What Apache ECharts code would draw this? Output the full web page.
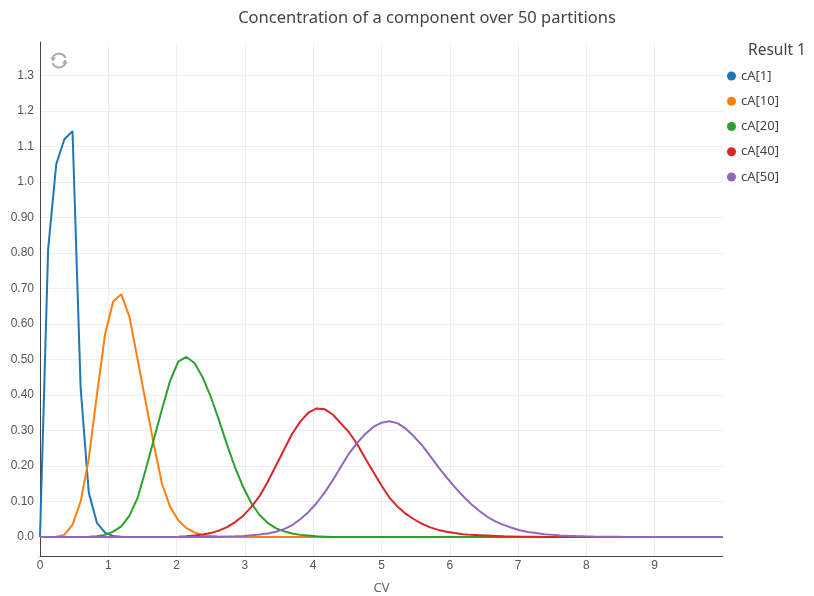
<!DOCTYPE html>
<html>
<head>
<meta charset="utf-8">
<title>Concentration of a component over 50 partitions</title>
<script src="https://cdn.jsdelivr.net/npm/echarts@6.0.0/dist/echarts.min.js"></script>
<style>
  html, body { margin: 0; padding: 0; background: #ffffff; }
  #chart { width: 814px; height: 596px; }
</style>
</head>
<body>
<div id="chart"></div>
<script>
// CV grid shared by every partition curve
const cv = [
  0, 0.119, 0.238, 0.357, 0.476, 0.595, 0.714, 0.833, 0.952, 1.071,
  1.19, 1.31, 1.429, 1.548, 1.667, 1.786, 1.905, 2.024, 2.143, 2.262,
  2.381, 2.5, 2.619, 2.738, 2.857, 2.976, 3.095, 3.214, 3.333, 3.452,
  3.571, 3.69, 3.81, 3.929, 4.048, 4.167, 4.286, 4.405, 4.524, 4.643,
  4.762, 4.881, 5.0, 5.119, 5.238, 5.357, 5.476, 5.595, 5.714, 5.833,
  5.952, 6.071, 6.19, 6.31, 6.429, 6.548, 6.667, 6.786, 6.905, 7.024,
  7.143, 7.262, 7.381, 7.5, 7.619, 7.738, 7.857, 7.976, 8.095, 8.214,
  8.333, 8.452, 8.571, 8.69, 8.81, 8.929, 9.048, 9.167, 9.286, 9.405,
  9.524, 9.643, 9.762, 9.881, 10.0
];

const cA1 = [
  0, 0.81, 1.05, 1.12, 1.143, 0.42, 0.125, 0.04, 0.012, 0.003,
  0.001, 0, 0, 0, 0, 0, 0, 0, 0, 0,
  0, 0, 0, 0, 0, 0, 0, 0, 0, 0,
  0, 0, 0, 0, 0, 0, 0, 0, 0, 0,
  0, 0, 0, 0, 0, 0, 0, 0, 0, 0,
  0, 0, 0, 0, 0, 0, 0, 0, 0, 0,
  0, 0, 0, 0, 0, 0, 0, 0, 0, 0,
  0, 0, 0, 0, 0, 0, 0, 0, 0, 0,
  0, 0, 0, 0, 0
];

const cA10 = [
  0, 0, 0.001, 0.006, 0.035, 0.10, 0.22, 0.40, 0.57, 0.663,
  0.684, 0.62, 0.50, 0.38, 0.26, 0.15, 0.085, 0.047, 0.025, 0.013,
  0.006, 0.003, 0.001, 0, 0, 0, 0, 0, 0, 0,
  0, 0, 0, 0, 0, 0, 0, 0, 0, 0,
  0, 0, 0, 0, 0, 0, 0, 0, 0, 0,
  0, 0, 0, 0, 0, 0, 0, 0, 0, 0,
  0, 0, 0, 0, 0, 0, 0, 0, 0, 0,
  0, 0, 0, 0, 0, 0, 0, 0, 0, 0,
  0, 0, 0, 0, 0
];

const cA20 = [
  0, 0, 0, 0, 0, 0, 0.0005, 0.002, 0.006, 0.015,
  0.03, 0.06, 0.11, 0.19, 0.275, 0.36, 0.44, 0.494, 0.507, 0.49,
  0.45, 0.395, 0.33, 0.26, 0.195, 0.14, 0.095, 0.062, 0.04, 0.025,
  0.016, 0.01, 0.006, 0.004, 0.002, 0.001, 0, 0, 0, 0,
  0, 0, 0, 0, 0, 0, 0, 0, 0, 0,
  0, 0, 0, 0, 0, 0, 0, 0, 0, 0,
  0, 0, 0, 0, 0, 0, 0, 0, 0, 0,
  0, 0, 0, 0, 0, 0, 0, 0, 0, 0,
  0, 0, 0, 0, 0
];

const cA40 = [
  0, 0, 0, 0, 0, 0, 0, 0, 0, 0,
  0, 0, 0, 0, 0, 0, 0.0003, 0.001, 0.002, 0.004,
  0.007, 0.011, 0.018, 0.028, 0.042, 0.06, 0.085, 0.115, 0.155, 0.2,
  0.245, 0.29, 0.325, 0.35, 0.362, 0.36, 0.345, 0.32, 0.295, 0.262,
  0.222, 0.183, 0.145, 0.11, 0.085, 0.065, 0.05, 0.037, 0.027, 0.02,
  0.015, 0.011, 0.008, 0.006, 0.005, 0.004, 0.003, 0.002, 0.0015, 0.001,
  0.0007, 0.0005, 0, 0, 0, 0, 0, 0, 0, 0,
  0, 0, 0, 0, 0, 0, 0, 0, 0, 0,
  0, 0, 0, 0, 0
];

const cA50 = [
  0, 0, 0, 0, 0, 0, 0, 0, 0, 0,
  0, 0, 0, 0, 0, 0, 0, 0, 0, 0,
  0, 0.0005, 0.001, 0.0015, 0.002, 0.003, 0.005, 0.007, 0.01, 0.015,
  0.022, 0.033, 0.05, 0.07, 0.095, 0.125, 0.16, 0.198, 0.235, 0.265,
  0.29, 0.31, 0.322, 0.326, 0.32, 0.305, 0.283, 0.258, 0.228, 0.197,
  0.168, 0.141, 0.116, 0.093, 0.074, 0.057, 0.044, 0.034, 0.026, 0.019,
  0.014, 0.011, 0.008, 0.006, 0.0045, 0.0033, 0.0025, 0.0018, 0.0013, 0.001,
  0.0007, 0.0005, 0, 0, 0, 0, 0, 0, 0, 0,
  0, 0, 0, 0, 0
];

const seriesNames = ['cA[1]', 'cA[10]', 'cA[20]', 'cA[40]', 'cA[50]'];
const seriesValues = [cA1, cA10, cA20, cA40, cA50];
const colors = ['#1f77b4', '#ff7f0e', '#2ca02c', '#d62728', '#9467bd'];

const xTicks = [0, 1, 2, 3, 4, 5, 6, 7, 8, 9];
const yTicks = [0, 0.1, 0.2, 0.3, 0.4, 0.5, 0.6, 0.7, 0.8, 0.9, 1.0, 1.1, 1.2, 1.3];
const yTickLabels = ['0.0', '0.10', '0.20', '0.30', '0.40', '0.50', '0.60', '0.70',
                     '0.80', '0.90', '1.0', '1.1', '1.2', '1.3'];

const tickFont = 'Liberation Sans, Arial, sans-serif';
const textFont = 'Noto Sans, Open Sans, sans-serif';

const chart = echarts.init(document.getElementById('chart'), null, { renderer: 'canvas' });

function yLabel(v) {
  for (let i = 0; i < yTicks.length; i++) {
    if (Math.abs(yTicks[i] - v) < 1e-6) return yTickLabels[i];
  }
  return '';
}

const option = {
  animation: false,
  backgroundColor: '#ffffff',
  color: colors,
  title: [
    {
      text: 'Concentration of a component over 50 partitions',
      left: 427,
      top: 10,
      padding: 0,
      textAlign: 'center',
      textStyle: { fontFamily: textFont, fontSize: 16.5, fontWeight: 'normal', color: '#444' }
    },
    {
      text: 'Result 1',
      left: 748,
      top: 43,
      padding: 0,
      textStyle: { fontFamily: textFont, fontSize: 15.5, fontWeight: 'normal', color: '#444' }
    }
  ],
  legend: {
    orient: 'vertical',
    left: 722,
    top: 64,
    icon: 'circle',
    itemWidth: 9,
    itemHeight: 9,
    itemGap: 11.25,
    data: seriesNames,
    textStyle: { fontFamily: textFont, fontSize: 13, color: '#444', lineHeight: 14 }
  },
  grid: { left: 40, right: 91, top: 42, bottom: 40, containLabel: false, outerBoundsMode: 'none' },
  xAxis: {
    type: 'value',
    min: 0,
    max: 10,
    name: 'CV',
    nameLocation: 'middle',
    nameGap: 26,
    nameTextStyle: { fontFamily: textFont, fontSize: 13, color: '#666' },
    axisLine: { onZero: false, lineStyle: { color: '#444', width: 1 } },
    axisTick: { show: false, customValues: xTicks },
    axisLabel: {
      customValues: xTicks,
      fontFamily: tickFont, fontSize: 12, color: '#555', margin: 4
    },
    splitLine: { show: true, lineStyle: { color: '#eeeeee', width: 1 } }
  },
  yAxis: {
    type: 'value',
    min: -0.0535,
    max: 1.394,
    axisLine: { show: true, onZero: false, lineStyle: { color: '#444', width: 1 } },
    axisTick: { show: false, customValues: yTicks },
    axisLabel: {
      customValues: yTicks,
      formatter: yLabel,
      fontFamily: tickFont, fontSize: 12, color: '#555', margin: 6
    },
    splitLine: { show: true, lineStyle: { color: '#eeeeee', width: 1 } }
  },
  series: seriesNames.map((name, k) => ({
    name: name,
    type: 'line',
    showSymbol: false,
    symbol: 'circle',
    data: cv.map((x, i) => [x, seriesValues[k][i]]),
    lineStyle: { width: 2, color: colors[k] },
    itemStyle: { color: colors[k] },
    emphasis: { disabled: true }
  })),
  graphic: [
    {
      type: 'group',
      left: 50,
      top: 51,
      children: [
        { type: 'arc', shape: { cx: 10, cy: 10, r: 7, startAngle: Math.PI * 1.12, endAngle: Math.PI * 1.88 },
          style: { stroke: '#aaaaaa', lineWidth: 2, fill: null } },
        { type: 'polygon', shape: { points: [[1, 7], [7, 7], [4, 11]] }, style: { fill: '#aaaaaa' } },
        { type: 'arc', shape: { cx: 10, cy: 10, r: 7, startAngle: Math.PI * 0.12, endAngle: Math.PI * 0.88 },
          style: { stroke: '#aaaaaa', lineWidth: 2, fill: null } },
        { type: 'polygon', shape: { points: [[13, 13], [19, 13], [16, 9]] }, style: { fill: '#aaaaaa' } }
      ]
    }
  ]
};

chart.setOption(option);
</script>
</body>
</html>
